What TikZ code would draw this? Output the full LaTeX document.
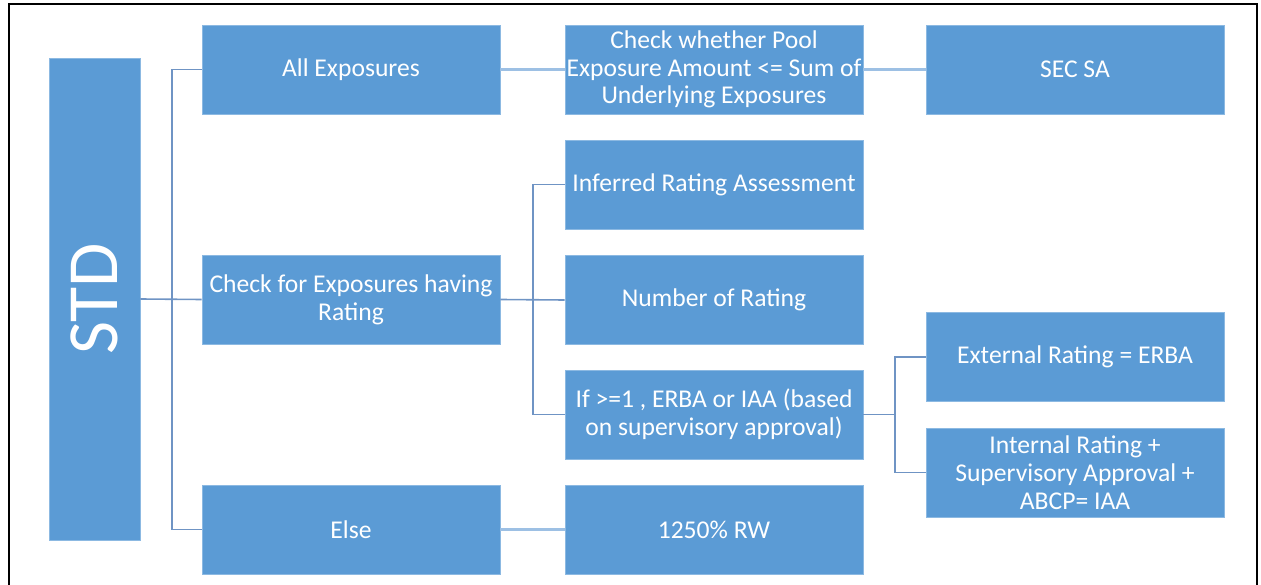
\documentclass[tikz,border=0pt]{standalone}
\usepackage{fontspec}
\setmainfont{Carlito}
\definecolor{boxblue}{HTML}{5B9BD5}
\definecolor{treeline}{HTML}{6F94C4}
\definecolor{straightline}{HTML}{9DC0E4}
\begin{document}
\begin{tikzpicture}[x=1pt,y=-1pt,
  box/.style={fill=boxblue, draw=boxblue!70!white, line width=0.6pt, minimum width=298pt, minimum height=89pt,
    align=center, text=white, inner sep=0pt,
    font=\fontsize{25.6}{27.8}\selectfont},
  tree/.style={draw=treeline, line width=1.6pt},
  straight/.style={draw=straightline, line width=2.2pt}]
\useasboundingbox (0,0) rectangle (1261,585);
\draw[line width=2.6pt] (9,590) -- (9,4) -- (1257,4) -- (1257,590);

\node[fill=boxblue, draw=boxblue!70!white, line width=0.6pt, minimum width=91pt, minimum height=482pt, inner sep=0pt] (STD) at (94.5,299) {};
\node[rotate=90, text=white, font=\fontsize{72}{80}\selectfont] (STDt) at (STD.center) {STD};

\node[box] (AllExp) at (351,69.5) {All Exposures};
\node[box] (Pool) at (714,69.5) {Check whether Pool\\Exposure Amount <= Sum of\\Underlying Exposures};
\node[box] (SEC) at (1075,69.5) {SEC SA};
\node[box] (CheckR) at (351,299.5) {Check for Exposures having\\Rating};
\node[box] (Inferred) at (714,184.5) {Inferred Rating Assessment};
\node[box] (Number) at (714,300) {Number of Rating};
\node[box] (If) at (714,414.5) {If >=1 , ERBA or IAA (based\\on supervisory approval)};
\node[box] (External) at (1075,357) {External Rating = ERBA};
\node[box] (Internal) at (1075,472.5) {Internal Rating +\\Supervisory Approval +\\ABCP= IAA};
\node[box] (Else) at (351,529.5) {Else};
\node[box] (RW) at (714,529.5) {1250\% RW};

\coordinate (j3) at (894,414.5);

\draw[tree] (AllExp.west) -- ++(-30,0) |- (Else.west);
\draw[tree] (STD.east) -- (CheckR.west);
\draw[tree] (Inferred.west) -- ++(-32,0) |- (If.west);
\draw[tree] (CheckR.east) -- (Number.west);
\draw[tree] (External.west) -- ++(-31,0) |- (Internal.west);
\draw[tree] (If.east) -- (j3);

\draw[straight] (AllExp.east) -- (Pool.west);
\draw[straight] (Pool.east) -- (SEC.west);
\draw[straight] (Else.east) -- (RW.west);
\end{tikzpicture}
\end{document}
